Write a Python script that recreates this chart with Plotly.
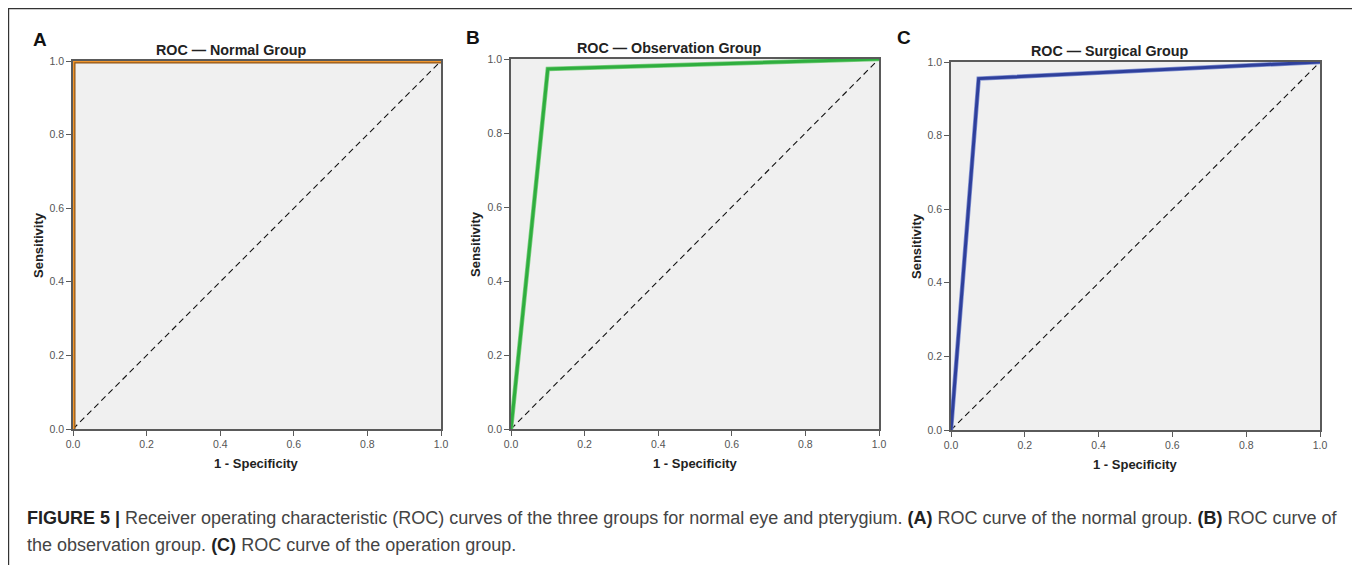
import plotly.graph_objects as go

# ---- data ----
fpr_normal = [0.0, 0.0, 1.0]
tpr_normal = [0.0, 1.0, 1.0]
fpr_obs = [0.0, 0.10, 1.0]
tpr_obs = [0.0, 0.973, 1.0]
fpr_surg = [0.0, 0.075, 1.0]
tpr_surg = [0.0, 0.955, 1.0]
ref_x = [0.0, 1.0]
ref_y = [0.0, 1.0]
tick_vals = [0.0, 0.2, 0.4, 0.6, 0.8, 1.0]
tick_text = ["0.0", "0.2", "0.4", "0.6", "0.8", "1.0"]
panel_titles = ["ROC \u2014 Normal Group", "ROC \u2014 Observation Group", "ROC \u2014 Surgical Group"]
panel_letters = ["A", "B", "C"]

W, H = 1360, 565
OFF = 8  # page body margin offset compensation
def px(x):
    return (x - OFF) / W
def py(y):
    return 1 - (y - OFF) / H

# plot areas in page pixels (left, right, top, bottom)
areas = [(73, 441, 61, 429), (511, 879, 59, 429), (951, 1320, 62, 430)]

fig = go.Figure()

series = [
    (fpr_normal, tpr_normal, "#8E5518", 5, "#F1962C", 2.6),
    (fpr_obs, tpr_obs, "#7BCF7E", 4.5, "#2FAE3F", 3.0),
    (fpr_surg, tpr_surg, "#7F8FD0", 4.5, "#2F409C", 3.0),
]

for i, (fx, fy, c_under, w_under, c_over, w_over) in enumerate(series):
    sfx = "" if i == 0 else str(i + 1)
    xa, ya = "x" + sfx, "y" + sfx
    fig.add_trace(go.Scatter(x=ref_x, y=ref_y, mode="lines", xaxis=xa, yaxis=ya,
                             line=dict(color="#111111", width=1.1, dash="6px,4px"),
                             showlegend=False, hoverinfo="skip"))
    fig.add_trace(go.Scatter(x=fx, y=fy, mode="lines", xaxis=xa, yaxis=ya,
                             line=dict(color=c_under, width=w_under),
                             showlegend=False, hoverinfo="skip"))
    fig.add_trace(go.Scatter(x=fx, y=fy, mode="lines", xaxis=xa, yaxis=ya,
                             line=dict(color=c_over, width=w_over),
                             showlegend=False))

axis_common = dict(range=[0, 1], showgrid=False, zeroline=False, showline=True,
                   mirror=True, linecolor="#5a5a5a", linewidth=1.5, ticks="outside",
                   ticklen=5, tickwidth=1.2, tickcolor="#5a5a5a",
                   tickvals=tick_vals, ticktext=tick_text,
                   tickfont=dict(family="Arial, Liberation Sans", size=10.5, color="#555555"),
                   layer="below traces", fixedrange=True, automargin=False)

layout_axes = {}
annotations = []
def ann(text, x, y, font, xanchor="center", yanchor="middle", **kw):
    d = dict(text=text, x=px(x), y=py(y), xref="paper", yref="paper", showarrow=False,
             xanchor=xanchor, yanchor=yanchor, font=font)
    d.update(kw)
    annotations.append(d)

bold_font = dict(family="Arial, Liberation Sans", size=13, color="#222222")
for i, (l, r, t, b) in enumerate(areas):
    sfx = "" if i == 0 else str(i + 1)
    layout_axes["xaxis" + sfx] = dict(axis_common, domain=[px(l), px(r)], anchor="y" + sfx)
    layout_axes["yaxis" + sfx] = dict(axis_common, domain=[py(b), py(t)], anchor="x" + sfx)
    cx = (l + r) / 2
    cy = (t + b) / 2
    ann("<b>" + panel_titles[i] + "</b>", cx - 26, t - 11,
        dict(family="Arial, Liberation Sans", size=14.3, color="#222222"))
    ann("<b>1 - Specificity</b>", cx, b + 34, bold_font)
    ann("<b>Sensitivity</b>", l - 35, cy, bold_font, textangle=-90)

letter_pos = [(40, 39), (473, 37), (904, 38)]
for letter, (lx, ly) in zip(panel_letters, letter_pos):
    ann("<b>" + letter + "</b>", lx, ly, dict(family="Arial, Liberation Sans", size=19, color="#111111"))

caption_font = dict(family="Liberation Sans Narrow, Arial Narrow, Arial", size=18, color="#444444")
ann("<b style='color:#222'>FIGURE 5 |</b> Receiver operating characteristic (ROC) curves of the three groups for normal eye and pterygium. "
    "<b style='color:#222'>(A)</b> ROC curve of the normal group. <b style='color:#222'>(B)</b> ROC curve of",
    25, 518, caption_font, xanchor="left")
ann("the observation group. <b style='color:#222'>(C)</b> ROC curve of the operation group.",
    25, 545, caption_font, xanchor="left")

shapes = [dict(type="rect", xref="paper", yref="paper", x0=px(8.6), x1=px(1355), y0=py(580), y1=py(8.6),
               line=dict(color="#333333", width=1.2), fillcolor="rgba(0,0,0,0)", layer="below")]

fig.update_layout(
    width=W, height=H,
    margin=dict(l=0, r=0, t=0, b=0, autoexpand=False),
    paper_bgcolor="white",
    plot_bgcolor="#F0F0F0",
    annotations=annotations,
    shapes=shapes,
    **layout_axes,
)

fig.write_html("out.html", config={"displayModeBar": False})
